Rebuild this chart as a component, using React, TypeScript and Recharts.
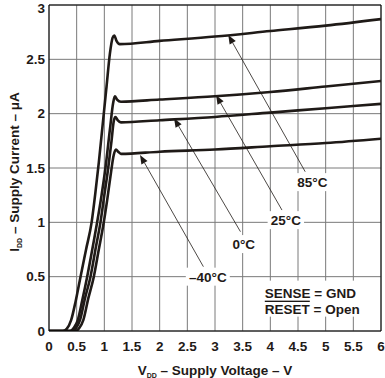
import { LineChart, Line, XAxis, YAxis, CartesianGrid, ReferenceLine, ReferenceDot, Label } from "recharts";

// supply current vs supply voltage, one curve per temperature
const v85 = [0, 0.25, 0.32, 0.4, 0.48, 0.57, 0.67, 0.77, 0.84, 0.9, 0.97, 1.04, 1.1, 1.15, 1.18, 1.22, 1.28, 2, 3, 4, 5, 6];
const i85 = [0, 0, 0.02, 0.1, 0.27, 0.5, 0.75, 1.0, 1.28, 1.55, 1.9, 2.25, 2.55, 2.7, 2.72, 2.67, 2.64, 2.67, 2.71, 2.76, 2.81, 2.87];
const v25 = [0, 0.38, 0.45, 0.52, 0.6, 0.69, 0.8, 0.87, 0.95, 1.02, 1.1, 1.16, 1.19, 1.23, 1.3, 2, 3, 4, 5, 6];
const i25 = [0, 0, 0.03, 0.1, 0.28, 0.5, 0.8, 1.0, 1.25, 1.5, 1.85, 2.1, 2.16, 2.13, 2.11, 2.13, 2.16, 2.2, 2.25, 2.3];
const v0 = [0, 0.42, 0.49, 0.56, 0.65, 0.75, 0.85, 0.93, 1.0, 1.07, 1.13, 1.17, 1.2, 1.24, 1.3, 2, 3, 4, 5, 6];
const i0 = [0, 0, 0.03, 0.1, 0.3, 0.5, 0.78, 1.0, 1.25, 1.5, 1.75, 1.93, 1.97, 1.94, 1.92, 1.94, 1.97, 2.01, 2.05, 2.09];
const vm40 = [0, 0.48, 0.55, 0.62, 0.71, 0.81, 0.9, 0.99, 1.05, 1.11, 1.17, 1.21, 1.25, 1.3, 2, 3, 4, 5, 6];
const im40 = [0, 0, 0.03, 0.1, 0.3, 0.5, 0.75, 1.0, 1.2, 1.42, 1.62, 1.67, 1.65, 1.63, 1.65, 1.67, 1.7, 1.73, 1.77];

const xTicks = [0, 0.5, 1, 1.5, 2, 2.5, 3, 3.5, 4, 4.5, 5, 5.5, 6];
const yTicks = [0, 0.5, 1, 1.5, 2, 2.5, 3];

// callouts: arrow tip on curve, line end, label centre
const callouts = [
  { text: "85°C", tip: [3.24, 2.724], end: [4.63, 1.466], at: [4.76, 1.37] },
  { text: "25°C", tip: [3.02, 2.17], end: [4.21, 1.113], at: [4.28, 1.02] },
  { text: "0°C", tip: [2.26, 1.957], end: [3.46, 0.914], at: [3.52, 0.8] },
  { text: "–40°C", tip: [1.645, 1.62], end: [2.79, 0.592], at: [2.87, 0.5] },
];

const toRows = (xs: number[], ys: number[]) => xs.map((v, k) => ({ v, i: ys[k] }));
const series = [toRows(v85, i85), toRows(v25, i25), toRows(v0, i0), toRows(vm40, im40)];

const FONT = "'Liberation Sans', Arial, sans-serif";
const INK = "#1f1a17";

function Arrow(p: any) {
  const { x1, y1, x2, y2 } = p;
  const dx = x1 - x2;
  const dy = y1 - y2;
  const len = Math.hypot(dx, dy) || 1;
  const ux = dx / len;
  const uy = dy / len;
  const bx = x1 - ux * 9;
  const by = y1 - uy * 9;
  const pts = `${x1},${y1} ${bx - uy * 3.5},${by + ux * 3.5} ${bx + uy * 3.5},${by - ux * 3.5}`;
  return (
    <g>
      <line x1={bx} y1={by} x2={x2} y2={y2} stroke={INK} strokeWidth={0.8} />
      <polygon points={pts} fill={INK} />
    </g>
  );
}

function Tag(text: string) {
  return (p: any) => {
    const w = text.length * 7.6 + 6;
    return (
      <g>
        <rect x={p.cx - w / 2} y={p.cy - 9} width={w} height={18} fill="#fff" />
        <text x={p.cx} y={p.cy + 5} textAnchor="middle" fontFamily={FONT} fontWeight="bold" fontSize={13.5} fill={INK}>
          {text}
        </text>
      </g>
    );
  };
}

function Note(p: any) {
  return (
    <g>
      <rect x={p.cx - 4} y={p.cy - 12} width={104} height={36} fill="#fff" />
      <text x={p.cx} y={p.cy + 5} fontFamily={FONT} fontWeight="bold" fontSize={13.5} fill={INK}>
        SENSE = GND
      </text>
      <text x={p.cx} y={p.cy + 21} fontFamily={FONT} fontWeight="bold" fontSize={13.5} fill={INK}>
        <tspan textDecoration="overline">RESET</tspan> = Open
      </text>
    </g>
  );
}

const tickStyle = { fontFamily: FONT, fontWeight: "bold", fontSize: 13.5, fill: INK };

export default function App() {
  return (
    <div style={{ position: "absolute", left: 0, top: 0, width: 385, height: 378, background: "#fff" }}>
      <LineChart width={385} height={378} margin={{ top: 5, right: 4, bottom: 0, left: 8 }}>
        <CartesianGrid stroke="#7a7a7a" strokeWidth={1} />
        <XAxis
          type="number"
          dataKey="v"
          domain={[0, 6]}
          ticks={xTicks}
          height={47}
          tickSize={0}
          tickMargin={10}
          tick={tickStyle}
          axisLine={{ stroke: "#000" }}
          allowDataOverflow
        >
          <Label
            content={(lp: any) => {
              const vb = lp.viewBox;
              return (
                <text x={vb.x + vb.width / 2} y={vb.y + 44} textAnchor="middle" fontFamily={FONT} fontWeight="bold" fontSize={13.5} fill={INK}>
                  V<tspan fontSize={7} dy={3}>DD</tspan>
                  <tspan dy={-3}> – Supply Voltage – V</tspan>
                </text>
              );
            }}
          />
        </XAxis>
        <YAxis
          type="number"
          domain={[0, 3]}
          ticks={yTicks}
          width={41}
          tickSize={0}
          tickMargin={4}
          tick={tickStyle}
          axisLine={{ stroke: "#000" }}
          allowDataOverflow
        >
          <Label
            content={(lp: any) => {
              const vb = lp.viewBox;
              const cx = 14;
              const cy = vb.y + vb.height / 2 + 4;
              return (
                <text x={cx} y={cy} transform={`rotate(-90 ${cx} ${cy})`} dy={5} textAnchor="middle" fontFamily={FONT} fontWeight="bold" fontSize={13.5} fill={INK}>
                  I<tspan fontSize={7} dy={3}>DD</tspan>
                  <tspan dy={-3}> – Supply Current – μA</tspan>
                </text>
              );
            }}
          />
        </YAxis>
        <ReferenceLine y={3} stroke="#000" />
        <ReferenceLine x={6} stroke="#000" />
        {series.map((rows, k) => (
          <Line
            key={k}
            data={rows}
            dataKey="i"
            type="monotone"
            stroke={INK}
            strokeWidth={2.6}
            dot={false}
            isAnimationActive={false}
          />
        ))}
        {callouts.map((c) => (
          <ReferenceLine
            key={"l" + c.text}
            segment={[
              { x: c.tip[0], y: c.tip[1] },
              { x: c.end[0], y: c.end[1] },
            ]}
            shape={Arrow}
          />
        ))}
        {callouts.map((c) => (
          <ReferenceDot key={"t" + c.text} x={c.at[0]} y={c.at[1]} r={1} shape={Tag(c.text)} />
        ))}
        <ReferenceDot x={3.9} y={0.353} r={1} shape={Note} />
      </LineChart>
    </div>
  );
}
